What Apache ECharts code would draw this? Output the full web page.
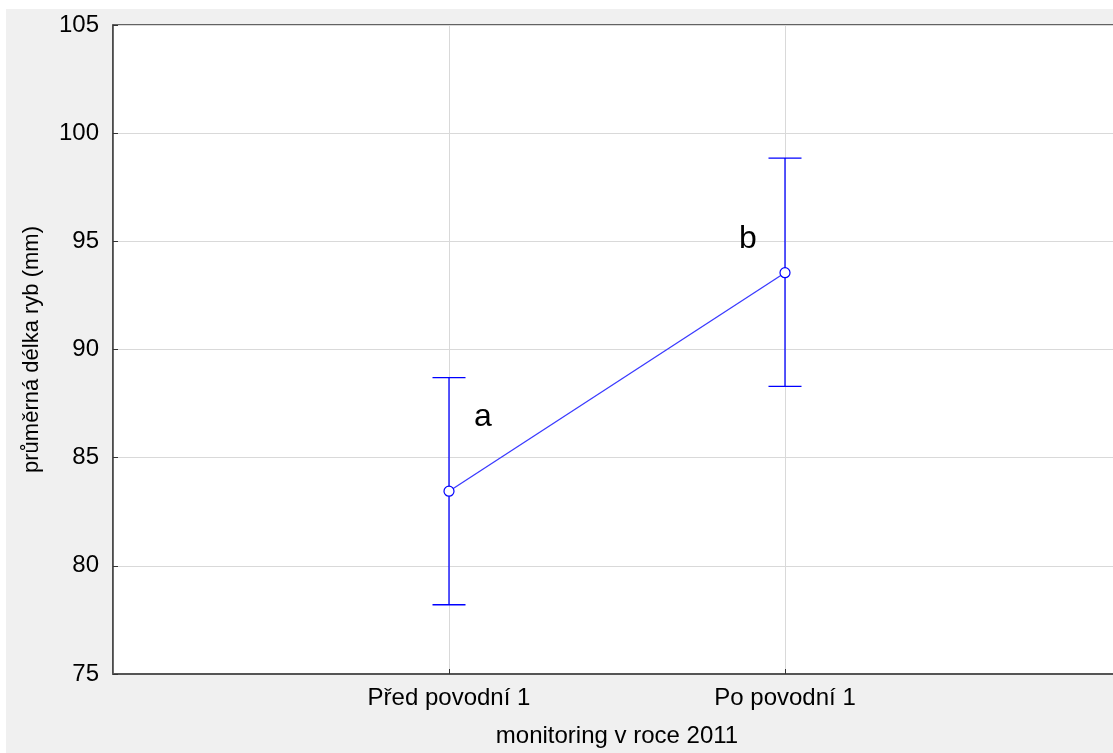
<!DOCTYPE html>
<html><head><meta charset="utf-8">
<script src="https://cdn.jsdelivr.net/npm/echarts@6/dist/echarts.min.js"></script>
<style>
html,body{margin:0;padding:0;background:#fff;overflow:hidden;width:1113px;height:753px;position:relative;}
#chart{position:absolute;left:6px;top:9px;width:1115px;height:744px;}
</style></head><body><div id="chart"></div>
<script>
// Mean fish length with 95% confidence intervals, before and after the flood
const categories = ['Před povodní 1', 'Po povodní 1'];
const means = [83.45, 93.55];
const lowerCI = [78.2, 88.3];
const upperCI = [88.7, 98.85];
const groupLetters = ['a', 'b'];
const yTickValues = [75, 80, 85, 90, 95, 100, 105];

const FONT = "'Liberation Sans', Arial, sans-serif";
const BLUE = '#0000ff';
// letter placement relative to each mean point (px)
const letterOffsets = [[34, -74], [-37, -34]];

const chart = echarts.init(document.getElementById('chart'));

const lineData = means.map((m, i) => [i + 1, m]);
const barData = means.map((m, i) => [i + 1, lowerCI[i], upperCI[i]]);
const letterData = means.map((m, i) => [i + 1, m]);

chart.setOption({
  backgroundColor: '#f0f0f0',
  animation: false,
  grid: {
    left: 107, top: 16, bottom: 78, right: 0,
    show: true, backgroundColor: '#ffffff',
    borderColor: '#333', borderWidth: 1.5
  },
  xAxis: {
    type: 'value', min: 0, max: 3, interval: 1,
    name: 'monitoring v roce 2011',
    nameLocation: 'middle', nameGap: 50,
    nameTextStyle: { fontFamily: FONT, fontSize: 24, color: '#000' },
    axisLine: { show: true, lineStyle: { color: '#555', width: 2 } },
    axisTick: { show: true, inside: true, length: 5, lineStyle: { color: '#333' } },
    splitLine: { show: true, lineStyle: { color: '#d9d9d9', width: 1 } },
    axisLabel: {
      margin: 12, fontFamily: FONT, fontSize: 24, color: '#000',
      formatter: v => (v >= 1 && v <= categories.length) ? categories[v - 1] : '',
      showMinLabel: false, showMaxLabel: false
    }
  },
  yAxis: {
    type: 'value', min: yTickValues[0], max: yTickValues[yTickValues.length - 1], interval: 5,
    name: 'průměrná délka ryb (mm)',
    nameLocation: 'middle', nameGap: 70,
    nameTextStyle: { fontFamily: FONT, fontSize: 22, color: '#000' },
    axisLine: { show: true, lineStyle: { color: '#444', width: 1.5 } },
    axisTick: { show: true, inside: true, length: 5, lineStyle: { color: '#333' } },
    splitLine: { show: true, lineStyle: { color: '#d9d9d9', width: 1 } },
    axisLabel: { margin: 14, fontFamily: FONT, fontSize: 24, color: '#000' }
  },
  series: [
    {
      type: 'custom',
      data: barData,
      z: 3,
      renderItem: (params, api) => {
        const x = api.value(0);
        const lo = api.coord([x, api.value(1)]);
        const hi = api.coord([x, api.value(2)]);
        const cap = 16.5;
        const style = { stroke: BLUE, lineWidth: 1.3 };
        return {
          type: 'group',
          children: [
            { type: 'line', shape: { x1: lo[0], y1: lo[1], x2: hi[0], y2: hi[1] }, style },
            { type: 'line', shape: { x1: lo[0] - cap, y1: lo[1], x2: lo[0] + cap, y2: lo[1] }, style },
            { type: 'line', shape: { x1: hi[0] - cap, y1: hi[1], x2: hi[0] + cap, y2: hi[1] }, style }
          ]
        };
      }
    },
    {
      type: 'line',
      data: lineData,
      z: 4,
      symbol: 'circle',
      symbolSize: 10,
      itemStyle: { color: '#ffffff', borderColor: BLUE, borderWidth: 1.2 },
      lineStyle: { color: '#3a3aff', width: 1.3 }
    },
    {
      type: 'custom',
      data: letterData,
      z: 5,
      renderItem: (params, api) => {
        const p = api.coord([api.value(0), api.value(1)]);
        const off = letterOffsets[params.dataIndex];
        return {
          type: 'text',
          x: p[0] + off[0], y: p[1] + off[1],
          style: {
            text: groupLetters[params.dataIndex],
            fontFamily: FONT, fontSize: 32, fill: '#000',
            align: 'center', verticalAlign: 'middle'
          }
        };
      }
    }
  ]
});
</script></body></html>
